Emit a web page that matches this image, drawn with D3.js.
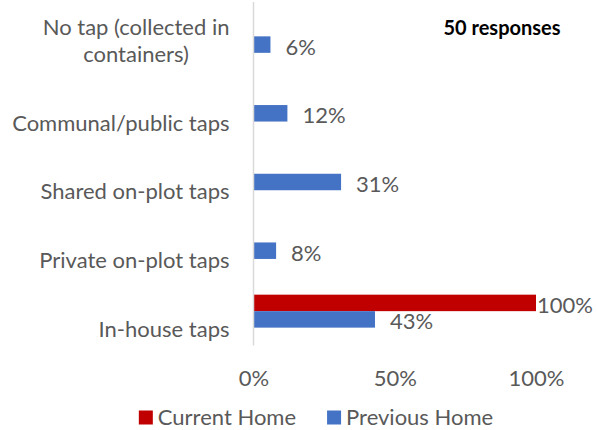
<!DOCTYPE html>
<html>
<head>
<meta charset="utf-8">
<script src="https://cdn.jsdelivr.net/npm/d3@7"></script>
<style>
  html, body { margin: 0; padding: 0; background: #fff; }
  svg { display: block; }
  text { font-family: Lato, "Open Sans", sans-serif; }
</style>
</head>
<body>
<svg id="chart" width="597" height="430"></svg>
<script>
// Water access by home, share of 50 responses
const categories = [
  ["No tap (collected in", "containers)"],
  ["Communal/public taps"],
  ["Shared on-plot taps"],
  ["Private on-plot taps"],
  ["In-house taps"]
];
const seriesNames = ["Current Home", "Previous Home"];
const currentHome = [null, null, null, null, 100];
const previousHome = [6, 12, 31, 8, 43];
const xTicks = [0, 50, 100];
const seriesColors = ["#C00000", "#4472C4"];
const note = "50 responses";

const svg = d3.select("#chart");
const textColor = "#595959";
const fontSize = 22;

const x = d3.scaleLinear().domain([0, 100]).range([253.5, 536]);
const y0 = d3.scaleBand()
  .domain(d3.range(categories.length))
  .range([2, 345.5])
  .paddingInner(0.52)
  .paddingOuter(0.26);
const y1 = d3.scaleBand()
  .domain(seriesNames)
  .range([0, y0.bandwidth()]);
const color = d3.scaleOrdinal().domain(seriesNames).range(seriesColors);

const seriesData = [currentHome, previousHome];
const rows = [];
seriesNames.forEach((s, si) => {
  seriesData[si].forEach((v, ci) => {
    if (v !== null) rows.push({ series: s, cat: ci, value: v });
  });
});

// bars
svg.append("g").selectAll("rect")
  .data(rows)
  .join("rect")
  .attr("x", x(0))
  .attr("y", d => y0(d.cat) + y1(d.series))
  .attr("width", d => x(d.value) - x(0))
  .attr("height", y1.bandwidth())
  .attr("fill", d => color(d.series));

// vertical category axis line
svg.append("line")
  .attr("x1", x(0)).attr("x2", x(0))
  .attr("y1", y0.range()[0]).attr("y2", y0.range()[1])
  .attr("stroke", "#d9d9d9").attr("stroke-width", 1.5);

// category labels: block right aligned, lines centered, last line below the band centre
const catG = svg.append("g");
categories.forEach((lines, ci) => {
  const cy = y0(ci) + y0.bandwidth() / 2;
  const lineH = 27;
  const g = catG.append("g");
  const texts = lines.map((ln, li) =>
    g.append("text")
      .attr("y", cy + 17 - (lines.length - 1 - li) * lineH)
      .attr("dominant-baseline", "central")
      .attr("font-size", fontSize)
      .attr("fill", textColor)
      .text(ln));
  const widths = texts.map(t => t.node().getComputedTextLength());
  const maxW = d3.max(widths);
  const right = 229.5;
  texts.forEach(t => t.attr("x", right - maxW / 2).attr("text-anchor", "middle"));
});

// value labels, kept inside the right edge
const labelRight = 593;
svg.append("g").selectAll("text")
  .data(rows)
  .join("text")
  .attr("y", d => y0(d.cat) + y1(d.series) + y1.bandwidth() / 2 + 1.5)
  .attr("dominant-baseline", "central")
  .attr("font-size", fontSize)
  .attr("fill", textColor)
  .text(d => d.value + "%")
  .each(function(d) {
    const w = this.getComputedTextLength();
    d3.select(this).attr("x", Math.min(x(d.value) + 15, labelRight - w));
  });

// x axis tick labels
const xAxis = d3.axisBottom(x)
  .tickValues(xTicks)
  .tickFormat(d => d + "%")
  .tickSize(0)
  .tickPadding(0);
const axG = svg.append("g").attr("transform", "translate(0,377)").call(xAxis);
axG.select(".domain").remove();
axG.selectAll("text")
  .attr("y", 0).attr("dy", null)
  .attr("dominant-baseline", "central")
  .attr("font-size", fontSize)
  .attr("font-family", "Lato, 'Open Sans', sans-serif")
  .attr("fill", textColor);

// legend
const legend = svg.append("g");
let cursor = 0;
seriesNames.forEach(s => {
  const g = legend.append("g");
  g.append("rect").attr("x", 0).attr("y", -6).attr("width", 14).attr("height", 14)
    .attr("fill", color(s));
  const t = g.append("text").attr("x", 19).attr("y", 0)
    .attr("dominant-baseline", "central")
    .attr("font-size", fontSize).attr("fill", textColor).text(s);
  const w = 19 + t.node().getComputedTextLength();
  g.attr("transform", `translate(${cursor},0)`);
  cursor += w + 31;
});
const legendW = cursor - 31;
legend.attr("transform", `translate(${316 - legendW / 2},416.5)`);

// response count note
svg.append("text")
  .attr("x", 502).attr("y", 27)
  .attr("text-anchor", "middle")
  .attr("dominant-baseline", "central")
  .attr("font-size", 20)
  .attr("font-weight", "bold")
  .attr("fill", "#000")
  .text(note);
</script>
</body>
</html>
